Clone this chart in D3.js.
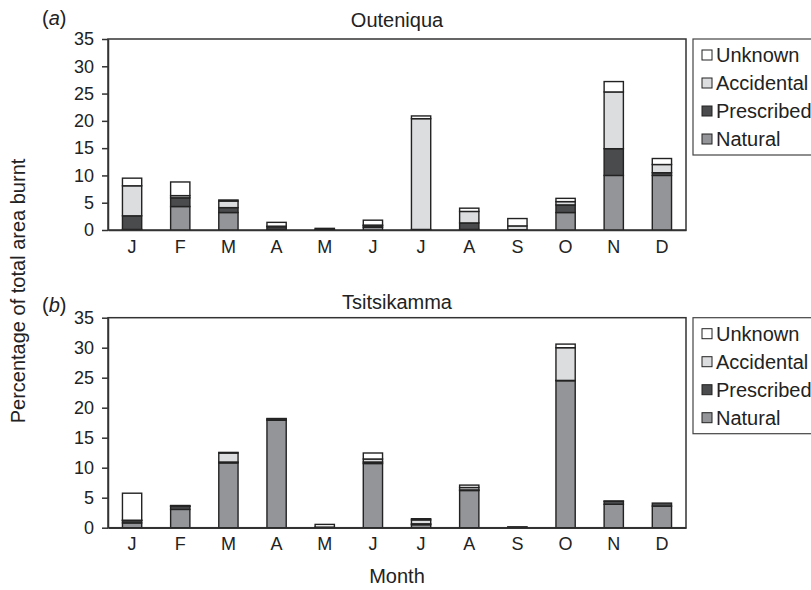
<!DOCTYPE html>
<html>
<head>
<meta charset="utf-8">
<script src="https://cdn.jsdelivr.net/npm/d3@7"></script>
<style>
  body { margin: 0; background: #fff; }
  svg { font-family: "Liberation Sans", Arial, sans-serif; }
  .axis text { font-size: 18px; fill: #222; }
  .axis path, .axis line { stroke: #333; stroke-width: 1.5; }
</style>
</head>
<body>
<svg width="811" height="590"></svg>
<script>
    // month ticks and the four fire causes
    const months = ["J", "F", "M", "A", "M", "J", "J", "A", "S", "O", "N", "D"];
    const causes = ["Natural", "Prescribed", "Accidental", "Unknown"];
    const legendOrder = ["Unknown", "Accidental", "Prescribed", "Natural"];
    const yTicks = [0, 5, 10, 15, 20, 25, 30, 35];

    // (a) Outeniqua, % of total area burnt
    const outNatural    = [0.1, 4.3, 3.2, 0.1, 0.1, 0.5, 0.1, 0.1, 0, 3.2, 10.0, 10.0];
    const outPrescribed = [2.5, 1.6, 0.9, 0.5, 0.2, 0.3, 0, 1.2, 0.05, 1.4, 4.9, 0.5];
    const outAccidental = [5.5, 0.4, 1.2, 0.1, 0, 0.1, 20.3, 2.1, 0.7, 0.6, 10.4, 1.5];
    const outUnknown    = [1.4, 2.5, 0.2, 0.7, 0, 0.9, 0.5, 0.6, 1.35, 0.6, 1.9, 1.1];

    // (b) Tsitsikamma
    const tsiNatural    = [0.8, 3.05, 10.8, 17.9, 0, 10.7, 0.5, 6.2, 0.15, 24.5, 3.9, 3.6];
    const tsiPrescribed = [0.4, 0.5, 0.15, 0.2, 0, 0.25, 0.15, 0.1, 0, 0.05, 0.5, 0.5];
    const tsiAccidental = [0.05, 0.05, 1.5, 0, 0.1, 0.5, 0.65, 0.4, 0, 5.45, 0, 0];
    const tsiUnknown    = [4.5, 0.1, 0.1, 0.1, 0.45, 1.0, 0.2, 0.4, 0, 0.6, 0.05, 0];

    const colors = {
      Natural: "#949598",
      Prescribed: "#4a4b4d",
      Accidental: "#dcdddf",
      Unknown: "#ffffff"
    };

    const svg = d3.select("svg");
    const left = 108, right = 686;

    const xScale = d3.scaleBand()
      .domain(d3.range(months.length))
      .range([left, right])
      .paddingInner(0.6)
      .paddingOuter(0.3);

    function buildRows(nat, pre, acc, unk) {
      return months.map((m, i) => ({
        i: i,
        Natural: nat[i], Prescribed: pre[i], Accidental: acc[i], Unknown: unk[i]
      }));
    }

    function panel(rows, top, bottom, letter, title, titleY, letterY) {
      const yScale = d3.scaleLinear().domain([0, 35]).range([bottom, top]);
      const g = svg.append("g");

      // frame
      g.append("rect")
        .attr("x", left).attr("y", top)
        .attr("width", right - left).attr("height", bottom - top)
        .attr("fill", "none").attr("stroke", "#333").attr("stroke-width", 1.5);

      const series = d3.stack().keys(causes)(rows);

      g.selectAll("g.layer")
        .data(series)
        .enter()
        .append("g")
        .attr("class", "layer")
        .attr("fill", (s) => colors[s.key])
        .selectAll("rect")
        .data((s) => s.filter((d) => d[1] - d[0] > 0))
        .enter()
        .append("rect")
        .attr("x", (d) => xScale(d.data.i))
        .attr("y", (d) => yScale(d[1]))
        .attr("width", xScale.bandwidth())
        .attr("height", (d) => yScale(d[0]) - yScale(d[1]))
        .attr("stroke", "#222")
        .attr("stroke-width", 1.4);

      g.append("g")
        .attr("class", "axis")
        .attr("transform", `translate(${left},0)`)
        .call(d3.axisLeft(yScale).tickValues(yTicks).tickSize(6).tickPadding(8).tickSizeOuter(0));

      g.append("g")
        .attr("class", "axis")
        .attr("transform", `translate(0,${bottom})`)
        .call(d3.axisBottom(xScale).tickSize(0).tickPadding(10).tickSizeOuter(0)
          .tickFormat((i) => months[i]));

      g.append("text")
        .attr("x", (left + right) / 2)
        .attr("y", titleY)
        .attr("text-anchor", "middle")
        .attr("font-size", 20)
        .attr("fill", "#222")
        .text(title);

      const lab = g.append("text")
        .attr("x", 42).attr("y", letterY)
        .attr("font-size", 20).attr("fill", "#222");
      lab.append("tspan").text("(");
      lab.append("tspan").attr("font-style", "italic").text(letter);
      lab.append("tspan").text(")");

      // legend
      const lg = g.append("g").attr("transform", `translate(693,${top})`);
      lg.append("rect")
        .attr("x", 0).attr("y", 0)
        .attr("width", 130).attr("height", 116)
        .attr("fill", "none").attr("stroke", "#444").attr("stroke-width", 1.2);
      legendOrder.forEach((k, j) => {
        lg.append("rect")
          .attr("x", 9).attr("y", 11 + j * 28)
          .attr("width", 10).attr("height", 10)
          .attr("fill", colors[k]).attr("stroke", "#222").attr("stroke-width", 1);
        lg.append("text")
          .attr("x", 23).attr("y", 23 + j * 28)
          .attr("font-size", 20).attr("fill", "#222")
          .text(k);
      });
    }

    panel(buildRows(outNatural, outPrescribed, outAccidental, outUnknown),
      39, 230, "a", "Outeniqua", 27, 25);
    panel(buildRows(tsiNatural, tsiPrescribed, tsiAccidental, tsiUnknown),
      317.7, 527.7, "b", "Tsitsikamma", 309, 312);

    svg.append("text")
      .attr("x", (left + right) / 2)
      .attr("y", 583)
      .attr("text-anchor", "middle")
      .attr("font-size", 20).attr("fill", "#222")
      .text("Month");

    svg.append("text")
      .attr("transform", "translate(25,291) rotate(-90)")
      .attr("text-anchor", "middle")
      .attr("font-size", 20).attr("fill", "#222")
      .text("Percentage of total area burnt");
</script>
</body>
</html>
